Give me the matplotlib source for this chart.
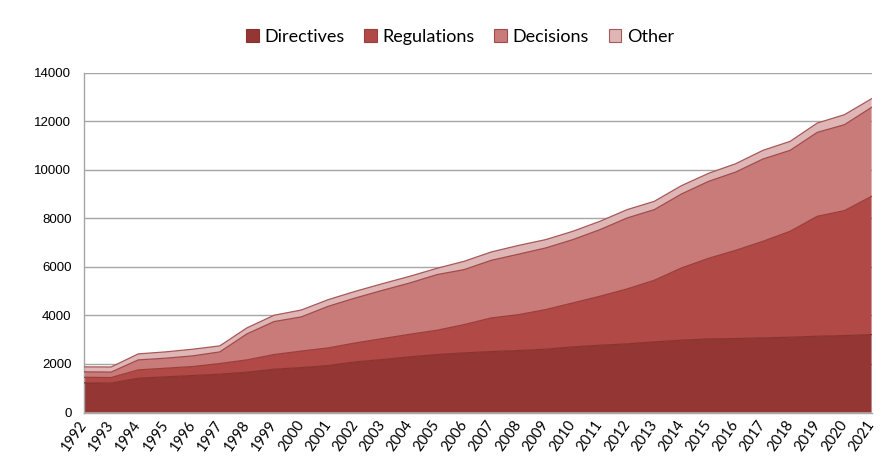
import matplotlib
matplotlib.use("Agg")
import matplotlib.pyplot as plt
import numpy as np

years = list(range(1992, 2022))
directives = [1220, 1210, 1413, 1468, 1523, 1578, 1660, 1783, 1850, 1934,
              2085, 2181, 2291, 2387, 2455, 2510, 2551, 2606, 2702, 2771,
              2826, 2908, 2977, 3032, 3045, 3072, 3100, 3141, 3168, 3210]
regulations = [230, 230, 343, 356, 370, 438, 507, 604, 680, 727,
               782, 864, 932, 1001, 1166, 1386, 1479, 1632, 1811, 2017,
               2263, 2538, 2976, 3318, 3635, 3978, 4362, 4939, 5145, 5692]
decisions = [225, 225, 411, 412, 439, 480, 1070, 1358, 1407, 1715,
             1852, 1989, 2113, 2291, 2264, 2372, 2490, 2538, 2606, 2743,
             2922, 2908, 3045, 3169, 3223, 3389, 3333, 3455, 3538, 3663]
other = [205, 210, 247, 260, 274, 247, 247, 260, 283, 274,
         274, 274, 274, 260, 342, 344, 360, 343, 343, 343,
         343, 342, 343, 331, 343, 356, 370, 384, 412, 356]
series_names = ["Directives", "Regulations", "Decisions", "Other"]

colors = ["#933634", "#B14A46", "#C97B7A", "#DFB6B6"]
edges = ["#8A3331", "#9C3E3B", "#A04B4A", "#A85858"]

fig = plt.figure(figsize=(8.93, 4.70), dpi=100)
ax = fig.add_axes([0.094, 0.1223, 0.882, 0.7234])

x = np.arange(len(years))
data = [directives, regulations, decisions, other]
bottom = np.zeros(len(years))
handles = []
for vals, c, e, name in zip(data, colors, edges, series_names):
    top = bottom + np.array(vals)
    ax.fill_between(x, bottom, top, facecolor=c, edgecolor="none", zorder=2)
    ax.plot(x, top, color=e, lw=0.9, zorder=3)
    handles.append(plt.Rectangle((0, 0), 1, 1, facecolor=c, edgecolor=e, lw=0.8))
    bottom = top
ax.plot([x[-1], x[-1]], [0, bottom[-1]], color="#C98888", lw=0.8, zorder=3)

ax.set_xlim(0, len(years) - 1)
ax.set_ylim(0, 14000)
ax.set_yticks(np.arange(0, 14001, 2000))
ax.set_yticklabels([str(v) for v in range(0, 14001, 2000)],
                   fontsize=9.5, family="Liberation Sans")
ax.tick_params(axis="y", length=0, pad=9)
ax.yaxis.grid(True, color="#A6A6A6", lw=1.0, zorder=0)
ax.set_axisbelow(True)

ax.set_xticks(x)
ax.set_xticklabels([str(y) for y in years], rotation=55, ha="right",
                   va="center", rotation_mode="anchor", fontsize=10.5,
                   family="Lato")
ax.tick_params(axis="x", length=0, pad=7)
odd_pos = [i for i, y in enumerate(years) if y % 2 == 1]
ax.set_xticks(odd_pos, minor=True)
ax.tick_params(axis="x", which="minor", length=4, color="#A6A6A6", width=1)

for s in ["top", "right"]:
    ax.spines[s].set_visible(False)
for s in ["left", "bottom"]:
    ax.spines[s].set_color("#A6A6A6")
    ax.spines[s].set_linewidth(1.0)

fig.legend(handles, series_names, loc="center", bbox_to_anchor=(0.515, 0.921),
           ncol=4, frameon=False, prop={"family": "Lato", "size": 13},
           handlelength=0.7, handleheight=0.7, handletextpad=0.3,
           columnspacing=1.1)

fig.savefig("out.png", dpi=100)
